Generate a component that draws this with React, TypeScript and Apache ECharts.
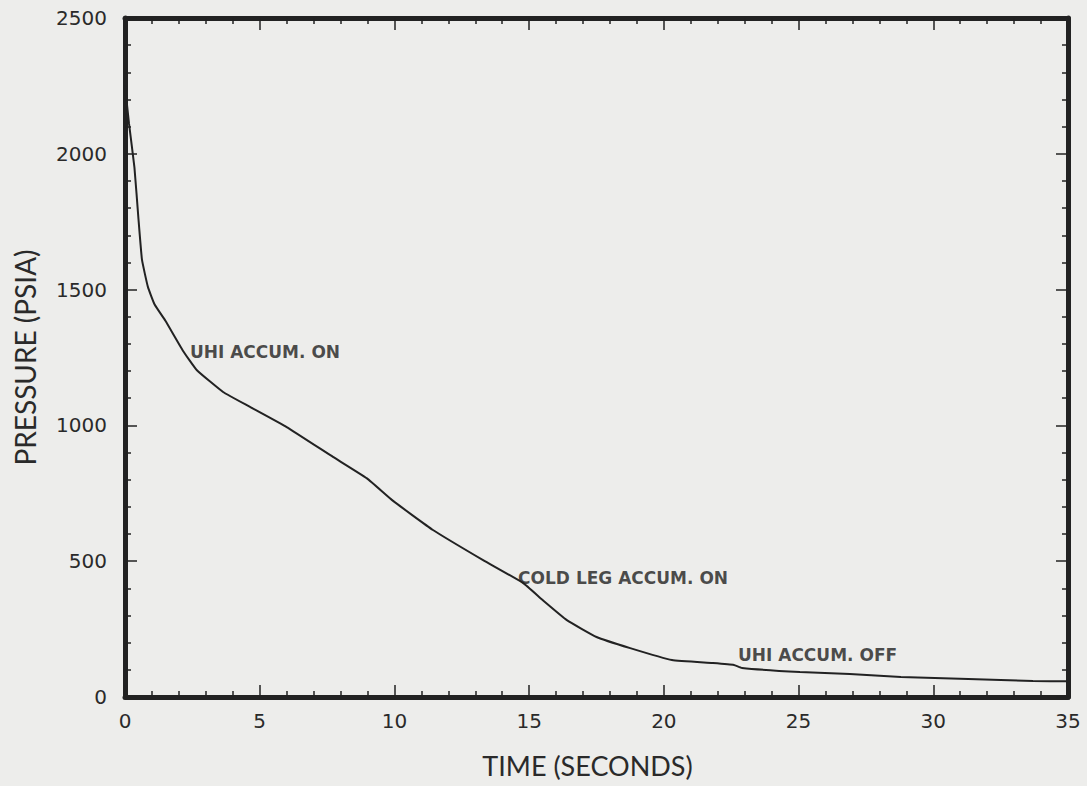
import React, { useEffect, useRef } from "react";
import * as echarts from "echarts";

// Time (s) and pressure (psia)
const timeSeconds = [0, 0.15, 0.35, 0.5, 0.63, 0.85, 1.1, 1.5, 2.15, 2.67, 3.64, 4.64, 6.0, 7.72, 8.98, 9.95, 11.43, 13.29, 14.77, 15.5, 16.4, 17.5, 18.75, 20.3, 21.8, 22.6, 22.9, 25.05, 26.9, 28.8, 31.3, 33.7, 35];
const pressurePsia = [2250, 2110, 1950, 1760, 1610, 1510, 1445, 1385, 1275, 1203, 1123, 1068, 994, 884, 805, 722, 615, 504, 420, 357, 283, 221, 180, 136, 125, 118, 107, 92, 85, 74, 66, 59, 58];

// Annotations (text, time, pressure)
const noteTexts = ["UHI ACCUM. ON", "COLD LEG ACCUM. ON", "UHI ACCUM. OFF"];
const noteTimes = [2.41, 14.59, 22.75];
const notePressures = [1270, 438, 155];

const xMin = 0;
const xMax = 35;
const xInterval = 5;
const yMin = 0;
const yMax = 2500;
const yInterval = 500;

const xTitle = "TIME (SECONDS)";
const yTitle = "PRESSURE (PSIA)";

const INK = "#222222";
const TITLE_FONT = "Lato, 'Open Sans', 'DejaVu Sans', sans-serif";
const TICK_FONT = "'DejaVu Sans', Lato, sans-serif";

export default function App() {
  const ref = useRef<HTMLDivElement>(null);

  useEffect(() => {
    if (!ref.current) return;
    const chart = echarts.init(ref.current, undefined, { renderer: "svg" });

    const axisLine = { show: true, onZero: false, lineStyle: { color: INK, width: 5 } };
    const axisTick = { show: true, inside: true, length: 12, lineStyle: { color: INK, width: 1.5 } };
    const minorTick = { show: true, splitNumber: 5, length: 6, lineStyle: { color: INK, width: 1.5 } };
    const plain = (v: number) => String(v);

    const curve = timeSeconds.map((t, i) => [t, pressurePsia[i]]);
    const notes = noteTexts.map((txt, i) => ({ value: [noteTimes[i], notePressures[i]], name: txt }));

    chart.setOption({
      animation: false,
      backgroundColor: "transparent",
      grid: { left: 125, right: 19, top: 18, bottom: 89, containLabel: false },
      xAxis: [
        {
          type: "value",
          position: "bottom",
          min: xMin,
          max: xMax,
          interval: xInterval,
          axisLine,
          axisTick,
          minorTick,
          splitLine: { show: false },
          axisLabel: { color: "#2a2a2a", fontSize: 20, fontFamily: TICK_FONT, margin: 14, formatter: plain },
          name: xTitle,
          nameLocation: "middle",
          nameGap: 55,
          nameTextStyle: { color: "#2a2a2a", fontSize: 27, fontFamily: TITLE_FONT, padding: [0, 18, 0, 0] },
        },
        {
          type: "value",
          position: "top",
          min: xMin,
          max: xMax,
          interval: xInterval,
          axisLine,
          axisTick,
          minorTick,
          splitLine: { show: false },
          axisLabel: { show: false },
        },
      ],
      yAxis: [
        {
          type: "value",
          position: "left",
          min: yMin,
          max: yMax,
          interval: yInterval,
          axisLine,
          axisTick,
          minorTick,
          splitLine: { show: false },
          axisLabel: { color: "#2a2a2a", fontSize: 20, fontFamily: TICK_FONT, margin: 18, formatter: plain },
          name: yTitle,
          nameLocation: "middle",
          nameGap: 86,
          nameTextStyle: { color: "#2a2a2a", fontSize: 28, fontFamily: TITLE_FONT },
        },
        {
          type: "value",
          position: "right",
          min: yMin,
          max: yMax,
          interval: yInterval,
          axisLine,
          axisTick,
          minorTick,
          splitLine: { show: false },
          axisLabel: { show: false },
        },
      ],
      series: [
        {
          type: "line",
          data: curve,
          xAxisIndex: 0,
          yAxisIndex: 0,
          showSymbol: false,
          symbol: "none",
          smooth: 0.12,
          lineStyle: { color: INK, width: 2 },
          z: 3,
        },
        {
          type: "scatter",
          data: notes,
          xAxisIndex: 0,
          yAxisIndex: 0,
          symbolSize: 0,
          label: {
            show: true,
            position: [0, 0],
            align: "left",
            verticalAlign: "middle",
            formatter: (p: any) => p.name,
            color: "#1e1e1e",
            fontSize: 17,
            fontWeight: "bold",
            fontFamily: "'DejaVu Sans', sans-serif",
          },
          z: 4,
        },
      ],
    });

    return () => chart.dispose();
  }, []);

  return (
    <div
      style={{
        position: "fixed",
        left: 0,
        top: 0,
        width: 1087,
        height: 786,
        background: "#ededeb",
      }}
    >
      <div ref={ref} style={{ width: 1087, height: 786 }} />
    </div>
  );
}
